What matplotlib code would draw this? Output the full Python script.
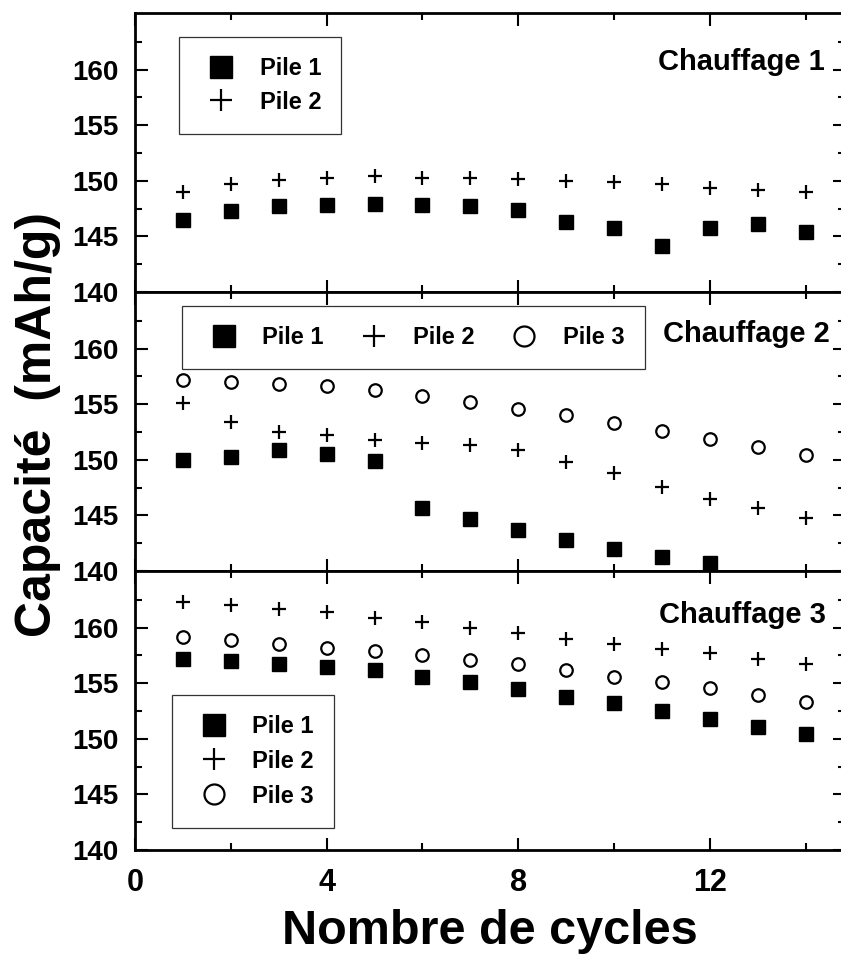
import matplotlib
matplotlib.use("Agg")
import matplotlib.pyplot as plt

# cycle number
cycles = list(range(1, 15))

# Chauffage 1
c1_pile1 = [146.5, 147.3, 147.7, 147.8, 147.9, 147.8, 147.7, 147.4, 146.3, 145.8, 144.1, 145.8, 146.1, 145.4]
c1_pile2 = [149.0, 149.7, 150.1, 150.3, 150.4, 150.3, 150.3, 150.2, 150.0, 149.9, 149.7, 149.4, 149.2, 149.0]

# Chauffage 2 (pile 1 stops at cycle 12)
c2_pile1 = [150.0, 150.3, 150.9, 150.5, 149.9, 145.7, 144.7, 143.7, 142.8, 142.0, 141.3, 140.7]
c2_pile2 = [155.1, 153.4, 152.5, 152.2, 151.8, 151.5, 151.3, 150.9, 149.8, 148.8, 147.6, 146.5, 145.7, 144.8]
c2_pile3 = [157.2, 157.0, 156.8, 156.6, 156.3, 155.7, 155.2, 154.6, 154.0, 153.3, 152.6, 151.9, 151.2, 150.4]

# Chauffage 3
c3_pile1 = [157.2, 157.0, 156.7, 156.5, 156.2, 155.6, 155.1, 154.5, 153.8, 153.2, 152.5, 151.8, 151.1, 150.4]
c3_pile2 = [162.3, 162.0, 161.7, 161.4, 160.9, 160.5, 160.0, 159.5, 159.0, 158.5, 158.1, 157.7, 157.2, 156.7]
c3_pile3 = [159.2, 158.9, 158.5, 158.2, 157.9, 157.5, 157.1, 156.7, 156.2, 155.6, 155.1, 154.6, 153.9, 153.3]

labels = ["Pile 1", "Pile 2", "Pile 3"]
panel_titles = ["Chauffage 1", "Chauffage 2", "Chauffage 3"]

plt.rcParams["font.family"] = ["Liberation Sans", "DejaVu Sans"]
plt.rcParams["font.weight"] = "bold"

W, H = 841, 956
fig = plt.figure(figsize=(W / 100, H / 100), dpi=100)

left, right_px = 135, 845
panel_h = 279
bottom_px = 850

styles = [
    dict(marker="s", color="black", linestyle="none", markersize=9.5),
    dict(marker="+", color="black", linestyle="none", markersize=10, markeredgewidth=1.6),
    dict(marker="o", color="black", linestyle="none", markersize=9, markerfacecolor="white",
         markeredgewidth=1.6),
]

axes = []
for i in range(3):
    top_px = bottom_px - (3 - i) * panel_h
    ax = fig.add_axes([left / W, 1 - (top_px + panel_h) / H, (right_px - left) / W, panel_h / H])
    axes.append(ax)

data = [
    [c1_pile1, c1_pile2],
    [c2_pile1, c2_pile2, c2_pile3],
    [c3_pile1, c3_pile2, c3_pile3],
]

for i, ax in enumerate(axes):
    for j, series in enumerate(data[i]):
        ax.plot(cycles[:len(series)], series, label=labels[j], **styles[j])

    ax.set_xlim(0, (right_px - left) / 47.9)
    ax.set_ylim(140, 165.1)
    ax.set_yticks([140, 145, 150, 155, 160])
    ax.set_yticks([142.5, 147.5, 152.5, 157.5, 162.5], minor=True)
    ax.set_xticks([0, 4, 8, 12])
    ax.set_xticks([2, 6, 10, 14], minor=True)
    ax.tick_params(which="both", direction="in", top=True, right=True, width=1.5)
    ax.tick_params(which="major", length=9)
    ax.tick_params(which="minor", length=5)
    ax.tick_params(axis="y", labelsize=20, pad=12)
    ax.tick_params(axis="x", labelsize=22, pad=13)
    for s in ax.spines.values():
        s.set_linewidth(2.0)
    if i < 2:
        ax.tick_params(axis="x", labelbottom=False)

# panel labels
axes[0].text(0.972, 0.875, panel_titles[0], transform=axes[0].transAxes,
             ha="right", va="top", fontsize=21, fontweight="bold")
axes[1].text(0.979, 0.90, panel_titles[1], transform=axes[1].transAxes,
             ha="right", va="top", fontsize=21, fontweight="bold")
axes[2].text(0.973, 0.893, panel_titles[2], transform=axes[2].transAxes,
             ha="right", va="top", fontsize=21, fontweight="bold")

leg_kw = dict(loc="upper left", borderaxespad=0, fancybox=False, markerscale=1.6,
              prop={"size": 17, "weight": "bold"}, borderpad=0.85, handlelength=1.85,
              handletextpad=0.71, framealpha=1)

l1 = axes[0].legend(bbox_to_anchor=(0.062, 0.914), labelspacing=0.45, **leg_kw)
l2 = axes[1].legend(bbox_to_anchor=(0.066, 0.950), ncol=3, columnspacing=1.2, **leg_kw)
l3 = axes[2].legend(bbox_to_anchor=(0.052, 0.556), labelspacing=0.5, **leg_kw)
for leg in (l1, l2, l3):
    leg.get_frame().set_edgecolor("#333333")
    leg.get_frame().set_linewidth(0.9)

axes[2].set_xlabel("Nombre de cycles", fontsize=35, fontweight="bold", labelpad=8)
fig.text(0.045, 1 - 425 / H, "Capacité  (mAh/g)", rotation=90, ha="center", va="center",
         fontsize=36, fontweight="bold")

fig.savefig("out.png", dpi=100)
